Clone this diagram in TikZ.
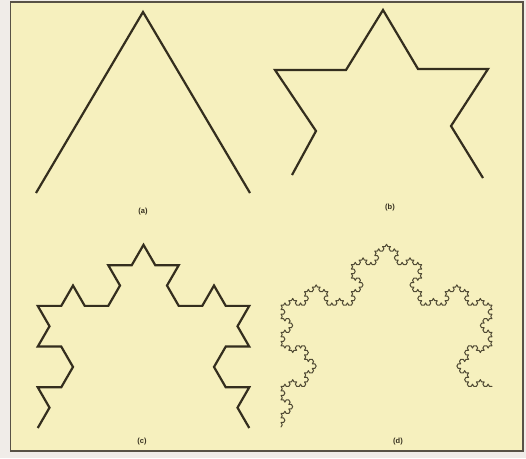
\documentclass[tikz,border=0pt]{standalone}
\usepackage{fontspec}
\setmainfont{Liberation Sans}
\usetikzlibrary{lindenmayersystems}
\definecolor{paper}{RGB}{246,240,190}
\definecolor{ink}{RGB}{52,46,30}
\definecolor{thinink}{RGB}{80,74,52}
\definecolor{framecol}{RGB}{88,82,70}
\definecolor{margin}{RGB}{240,236,232}
\tikzset{
  heavy/.style={ink, line width=2.2pt, line join=miter, line cap=butt},
  light/.style={thinink, line width=1.0pt, line join=round, line cap=round},
  lab/.style={inner sep=0pt, text=ink, font=\fontsize{7.5}{9}\selectfont\bfseries}
}
\begin{document}
\begin{tikzpicture}[x=1pt,y=1pt]
\useasboundingbox (0,0) rectangle (526,458);
\fill[margin] (0,0) rectangle (526,458);
\fill[paper] (10.5,7) rectangle (523,456);
\draw[framecol, line width=1.5pt] (10.5,7) rectangle (523,456);
% (a)
\draw[heavy] (36,265) -- (143,446) -- (250,265);
\node[lab] (la) at (143,246) {(a)};
% (b)
\draw[heavy] (292,283) -- (316,327) -- (275,388) -- (346,388) -- (383,448)
  -- (418,389) -- (488,389) -- (451,332) -- (483,280);
\node[lab] (lb) at (390,250) {(b)};
% (c)
\begin{scope}[shift={(37.75,30)}]
\draw[heavy, l-system={rule set={F -> F+F--F+F}, axiom=+F--F, order=2, step=23.5pt, angle=60}] (0,0) lindenmayer system;
\end{scope}
\node[lab] (lc) at (142,16) {(c)};
% (d)
\begin{scope}[shift={(281,31)}]
\draw[light, l-system={rule set={F -> F+F--F+F}, axiom=+F+F--F+F+F+F--F+F--F+F--F+F+F+F--F+F--F+F--F+F+F+F--F+F--F+F--F+F+F+F, order=2, step=2.605pt, angle=60}] (0,0) lindenmayer system;
\end{scope}
\node[lab] (ld) at (398,16) {(d)};
\end{tikzpicture}
\end{document}
